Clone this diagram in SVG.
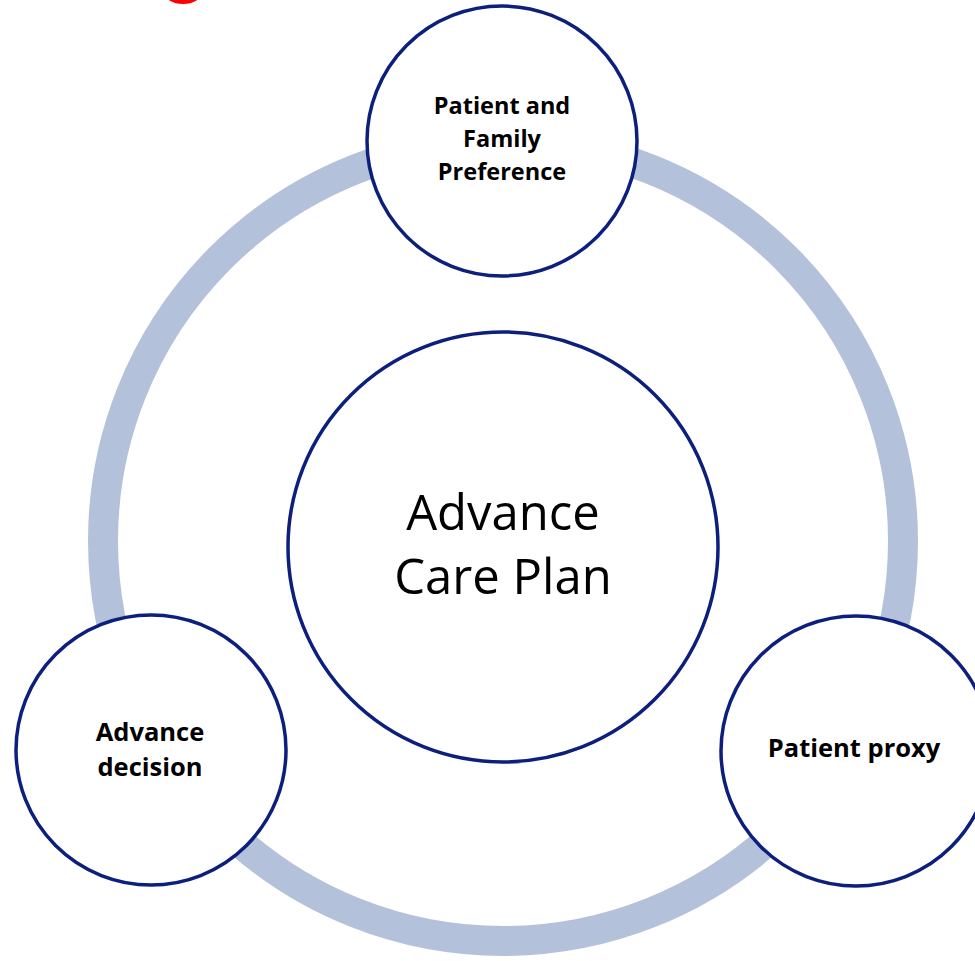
<svg xmlns="http://www.w3.org/2000/svg" width="975" height="961" viewBox="0 0 975 961">
  <style>
    .node { fill: #ffffff; stroke: #0d1f7c; stroke-width: 3.5; }
    .ring { fill: none; stroke: #b3c2da; stroke-width: 30; }
    .lbl { font-family: "Open Sans", "Liberation Sans", sans-serif; font-weight: bold; fill: #000000; text-anchor: middle; }
    .main { font-family: "Open Sans", "Liberation Sans", sans-serif; font-size: 49px; fill: #000000; text-anchor: middle; }
  </style>
  <rect width="975" height="961" fill="#ffffff"/>
  <!-- red mark clipped at the top edge -->
  <ellipse cx="183" cy="-8" rx="19" ry="12" fill="#ff0000"/>
  <!-- connecting ring -->
  <g id="connectors">
    <circle class="ring" cx="503" cy="541" r="400"/>
  </g>
  <g id="node-center">
    <circle class="node" cx="503" cy="547" r="215"/>
    <text class="main" x="503" y="530">Advance</text>
    <text class="main" x="503" y="594">Care Plan</text>
  </g>
  <g id="node-preference">
    <circle class="node" cx="502" cy="141" r="135"/>
    <text class="lbl" font-size="23.5" x="502" y="114">Patient and</text>
    <text class="lbl" font-size="23.5" x="502" y="147">Family</text>
    <text class="lbl" font-size="23.5" x="502" y="180">Preference</text>
  </g>
  <g id="node-decision">
    <circle class="node" cx="151" cy="750" r="135"/>
    <text class="lbl" font-size="25.5" x="150" y="741">Advance</text>
    <text class="lbl" font-size="25.5" x="150" y="776">decision</text>
  </g>
  <g id="node-proxy">
    <circle class="node" cx="856" cy="751" r="135"/>
    <text class="lbl" font-size="25.5" x="854" y="757">Patient proxy</text>
  </g>
</svg>
